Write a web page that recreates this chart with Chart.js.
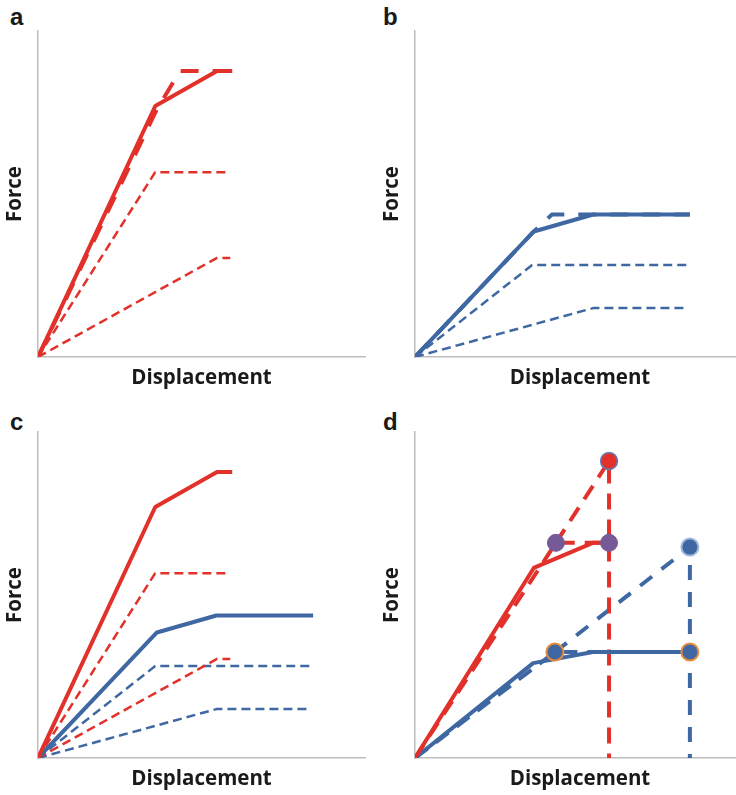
<!DOCTYPE html>
<html>
<head>
<meta charset="utf-8">
<script src="https://cdn.jsdelivr.net/npm/chart.js@4"></script>
<style>
  html, body { margin: 0; padding: 0; background: #fff; width: 736px; height: 795px; overflow: hidden; }
  canvas { position: absolute; }
  .tag { position: absolute; font: bold 24px "Liberation Sans", Arial, sans-serif; line-height: 24px; color: #1a1a1a; }
</style>
</head>
<body>
<div class="tag" style="left:10px; top:5px;">a</div>
<div class="tag" style="left:383px; top:5px;">b</div>
<div class="tag" style="left:10px; top:410px;">c</div>
<div class="tag" style="left:383px; top:410px;">d</div>

<canvas id="chart-a" width="368" height="395" style="left:0; top:0;"></canvas>
<canvas id="chart-b" width="371" height="395" style="left:377px; top:0;"></canvas>
<canvas id="chart-c" width="368" height="395" style="left:0; top:401px;"></canvas>
<canvas id="chart-d" width="371" height="395" style="left:377px; top:401px;"></canvas>

<script>
/* Force–displacement sketches, four panels (arbitrary units) */

// red specimen (panels a, c)
const redSolidX = [0, 35.5, 54.2, 58.8];
const redSolidY = [0, 77, 87.7, 87.7];
const redLongDashX = [0, 36, 43, 58.8];
const redLongDashY = [0, 76, 87.7, 87.7];
const redMidX = [0, 35.5, 57.3];
const redMidY = [0, 56.7, 56.7];
const redLowX = [0, 54.2, 58.2];
const redLowY = [0, 30.4, 30.4];

// blue specimen (panels b, c)
const blueSolidX = [0, 36, 54, 83.3];
const blueSolidY = [0, 38.5, 43.7, 43.7];
const blueLongDashX = [0, 35.8, 41.5, 83.3];
const blueLongDashY = [0, 38.3, 43.7, 43.7];
const blueMidX = [0, 35.5, 82.7];
const blueMidY = [0, 28.2, 28.2];
const blueLowX = [0, 54, 82.7];
const blueLowY = [0, 15, 15];

// panel d
const dRedSolidX = [0, 36, 53.9, 58.8];
const dRedSolidY = [0, 58.3, 66, 66];
const dRedDashX = [0, 42.7, 58.8];
const dRedDashY = [0, 66, 66];
const dRedPeakX = [42.7, 58.8, 58.8];
const dRedPeakY = [66, 91.1, 0];
const dBlueSolidX = [0, 35.8, 53.9, 83.3];
const dBlueSolidY = [0, 29.1, 32.5, 32.5];
const dBlueDashX = [0, 42.4, 83.3];
const dBlueDashY = [0, 32.5, 32.5];
const dBluePeakX = [42.4, 83.3, 83.3];
const dBluePeakY = [32.5, 64.7, 0];
const purpleDotX = [42.7, 58.8];
const purpleDotY = [66, 66];
const redDotX = [58.8];
const redDotY = [91.1];
const orangeDotX = [42.4, 83.3];
const orangeDotY = [32.5, 32.5];
const blueDotX = [83.3];
const blueDotY = [64.7];

const RED = '#e2312a';
const BLUE = '#3f68a3';
const PURPLE = '#765a97';
const ORANGE = '#e58b3a';
const AXIS = '#bdbdbd';
const TEXT = '#1a1a1a';

const pts = (xs, ys) => xs.map((x, i) => ({ x, y: ys[i] }));

function line(xs, ys, color, width, dash) {
    return {
        data: pts(xs, ys),
        borderColor: color,
        borderWidth: width,
        borderDash: dash || [],
        borderJoinStyle: 'round',
        pointRadius: 0,
        fill: false,
        tension: 0
    };
}

function dots(xs, ys, fill, border, bw) {
    return {
        data: pts(xs, ys),
        showLine: false,
        pointRadius: 8.5,
        pointBackgroundColor: fill,
        pointBorderColor: border,
        pointBorderWidth: bw
    };
}

const titleFont = { family: '"Open Sans", sans-serif', size: 20.5, weight: 'bold' };

function makePanel(id, xMax, datasets) {
    return new Chart(document.getElementById(id), {
        type: 'line',
        data: { datasets },
        options: {
            responsive: false,
            animation: false,
            devicePixelRatio: 1,
            events: [],
            layout: { autoPadding: false, padding: { top: 31, right: 3, left: 0, bottom: 0 } },
            plugins: { legend: { display: false }, tooltip: { enabled: false } },
            scales: {
                x: {
                    type: 'linear', min: 0, max: xMax,
                    grid: { display: false, drawTicks: false },
                    ticks: { display: false },
                    border: { color: AXIS, width: 1.5 },
                    title: { display: true, text: 'Displacement', font: titleFont, color: TEXT, padding: { top: 0, bottom: 5 } },
                    afterFit: s => { s.height = 38; }
                },
                y: {
                    type: 'linear', min: 0, max: 100,
                    grid: { display: false, drawTicks: false },
                    ticks: { display: false },
                    border: { color: AXIS, width: 1.5 },
                    title: { display: true, text: 'Force', font: titleFont, color: TEXT, padding: { top: 3, bottom: 0 } },
                    afterFit: s => { s.width = 38; }
                }
            }
        }
    });
}

// a
makePanel('chart-a', 99, [
    line(redSolidX, redSolidY, RED, 4),
    line(redLongDashX, redLongDashY, RED, 4, [18, 14]),
    line(redMidX, redMidY, RED, 2.5, [9, 5]),
    line(redLowX, redLowY, RED, 2.5, [9, 5])
]);

// b
makePanel('chart-b', 100, [
    line(blueSolidX, blueSolidY, BLUE, 4),
    line(blueLongDashX, blueLongDashY, BLUE, 4, [18, 14]),
    line(blueMidX, blueMidY, BLUE, 2.5, [9, 5]),
    line(blueLowX, blueLowY, BLUE, 2.5, [9, 5])
]);

// c
makePanel('chart-c', 99, [
    line(redSolidX, redSolidY, RED, 4),
    line(blueSolidX, blueSolidY, BLUE, 4),
    line(redMidX, redMidY, RED, 2.5, [9, 5]),
    line(redLowX, redLowY, RED, 2.5, [9, 5]),
    line(blueMidX, blueMidY, BLUE, 2.5, [9, 5]),
    line(blueLowX, blueLowY, BLUE, 2.5, [9, 5])
]);

// d
makePanel('chart-d', 100, [
    dots(purpleDotX, purpleDotY, PURPLE, PURPLE, 1),
    dots(redDotX, redDotY, RED, '#5b82bd', 1.5),
    dots(orangeDotX, orangeDotY, BLUE, ORANGE, 2),
    dots(blueDotX, blueDotY, BLUE, '#9db7dc', 2),
    line(dRedSolidX, dRedSolidY, RED, 4),
    line(dBlueSolidX, dBlueSolidY, BLUE, 4),
    line(dRedDashX, dRedDashY, RED, 4, [16, 10]),
    line(dBlueDashX, dBlueDashY, BLUE, 4, [16, 10]),
    line(dRedPeakX, dRedPeakY, RED, 4, [16, 10]),
    line(dBluePeakX, dBluePeakY, BLUE, 4, [15, 12])
]);
</script>
</body>
</html>
